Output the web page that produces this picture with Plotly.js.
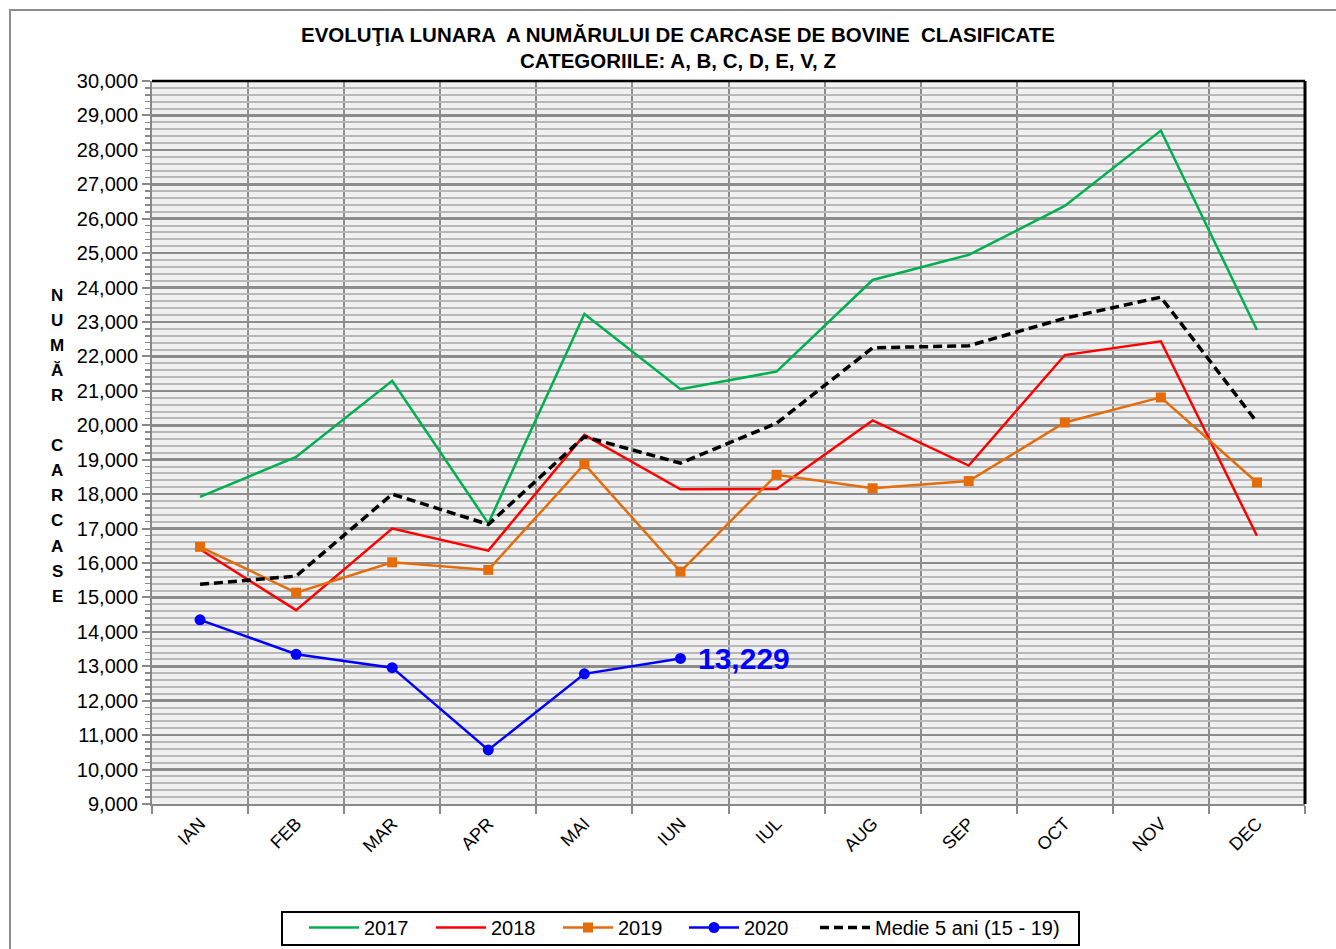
<!DOCTYPE html>
<html><head><meta charset="utf-8">
<script src="https://cdn.plot.ly/plotly-3.0.1.min.js"></script>
<style>html,body{margin:0;padding:0;background:#fff}#chart{width:1336px;height:949px}</style>
</head><body><div id="chart"></div>
<script>
const months = ['IAN','FEB','MAR','APR','MAI','IUN','IUL','AUG','SEP','OCT','NOV','DEC'];
const y2017 = [17920,19080,21290,17150,23230,21050,21560,24220,24950,26370,28560,22770];
const y2018 = [16400,14630,17000,16360,19720,18140,18150,20140,18830,22040,22440,16790];
const y2019 = [16470,15140,16020,15800,18870,15750,18560,18170,18380,20080,20810,18340];
const y2020 = [14350,13350,12960,10570,12780,13229];
const medie = [15380,15620,18000,17120,19670,18900,20060,22250,22310,23110,23720,20090];
const yTitleLetters = ['N','U','M','Ă','R',' ','C','A','R','C','A','S','E'];

const W = 1336, H = 949;
const M = {l:152, r:31, t:81, b:145, autoexpand:false};
const PW = W - M.l - M.r, PH = H - M.t - M.b;
const px2x = p => (p - M.l) / PW;
const py2y = p => 1 - (p - M.t) / PH;

const xi = a => a.map((_, i) => i);
const font = 'Arial, "Liberation Sans", sans-serif';

const traces = [
  {name:'2017', x:xi(y2017), y:y2017, mode:'lines', line:{color:'#00b050', width:2.5}, legendwidth:62},
  {name:'2018', x:xi(y2018), y:y2018, mode:'lines', line:{color:'#ff0000', width:2.5}, legendwidth:62},
  {name:'2019', x:xi(y2019), y:y2019, mode:'lines+markers', line:{color:'#e46c0a', width:2.5},
   marker:{symbol:'square', size:10, color:'#e46c0a'}, legendwidth:61},
  {name:'2020', x:xi(y2020), y:y2020, mode:'lines+markers', line:{color:'#0000ff', width:2.5},
   marker:{symbol:'circle', size:11, color:'#0000ff'}, legendwidth:66},
  {name:'Medie 5 ani (15 - 19)', x:xi(medie), y:medie, mode:'lines', line:{color:'#000000', width:3.5, dash:'9px,5px'}, legendwidth:190}
];

const annotations = yTitleLetters.map((ch, i) => ({
  text: ch, xref:'paper', yref:'paper', x: px2x(57), y: py2y(295 + i * 25.1),
  xanchor:'center', yanchor:'middle', showarrow:false,
  font:{family:font, size:17, color:'#000', weight:'bold'}
}));
const lastIdx = y2020.length - 1;
annotations.push({
  text: y2020[lastIdx].toLocaleString('en-US'), x:lastIdx, y:y2020[lastIdx], xref:'x', yref:'y',
  xanchor:'left', yanchor:'middle', xshift:16, showarrow:false,
  font:{family:font, size:30, color:'#0000ff', weight:'bold'}
});

const layout = {
  width:W, height:H, margin:M,
  paper_bgcolor:'#ffffff', plot_bgcolor:'#f0f0f0',
  font:{family:font, color:'#000'},
  title:{text:'EVOLUŢIA LUNARA  A NUMĂRULUI DE CARCASE DE BOVINE  CLASIFICATE<br>CATEGORIILE: A, B, C, D, E, V, Z',
         x:678/W, xref:'container', xanchor:'center', y:1-41.5/H, yref:'container', yanchor:'top',
         font:{family:font, size:20.5, color:'#000', weight:'bold'}},
  showlegend:true,
  legend:{orientation:'h', x:px2x(304), xanchor:'left', y:py2y(908), yanchor:'top', itemwidth:50,
          bgcolor:'rgba(0,0,0,0)', borderwidth:0,
          font:{family:font, size:20, color:'#000'}, traceorder:'normal'},
  xaxis:{range:[-0.5, 11.5], tickvals:xi(months), ticktext:months, tickangle:-45,
         showgrid:false, zeroline:false, ticks:'', showline:true, linecolor:'#888', linewidth:2,
         tickfont:{family:font, size:18, color:'#000'},
         minor:{tick0:-0.5, dtick:1, showgrid:true, gridcolor:'#8c8c8c', gridwidth:2,
                ticks:'outside', ticklen:8, tickcolor:'#888', tickwidth:2}},
  yaxis:{range:[9000, 30000], dtick:1000, tickformat:',d', showgrid:true, gridcolor:'#8c8c8c', gridwidth:2.5,
         zeroline:false, showline:true, linecolor:'#888', linewidth:2, ticks:'outside', ticklen:8,
         tickcolor:'#888', tickwidth:2,
         tickfont:{family:font, size:20, color:'#000'},
         minor:{dtick:200, showgrid:true, gridcolor:'#b8b8b8', gridwidth:2,
                ticks:'outside', ticklen:5, tickcolor:'#888', tickwidth:1.5}},
  shapes:[
    {type:'line', xref:'paper', yref:'paper', x0:0, x1:1, y0:1, y1:1, line:{color:'#000', width:2.5}},
    {type:'line', xref:'paper', yref:'paper', x0:1, x1:1, y0:0, y1:1, line:{color:'#000', width:3}},
    {type:'rect', xref:'paper', yref:'paper', x0:px2x(10), x1:px2x(1350), y0:py2y(10), y1:py2y(970),
     line:{color:'#8c8c8c', width:2}, layer:'below'},
    {type:'rect', xref:'paper', yref:'paper', x0:px2x(282), x1:px2x(1079), y0:py2y(912), y1:py2y(945),
     line:{color:'#000', width:2}, fillcolor:'#ffffff', layer:'below'}
  ],
  annotations:annotations
};

Plotly.newPlot('chart', traces, layout, {displayModeBar:false, staticPlot:true});
</script>
</body></html>
